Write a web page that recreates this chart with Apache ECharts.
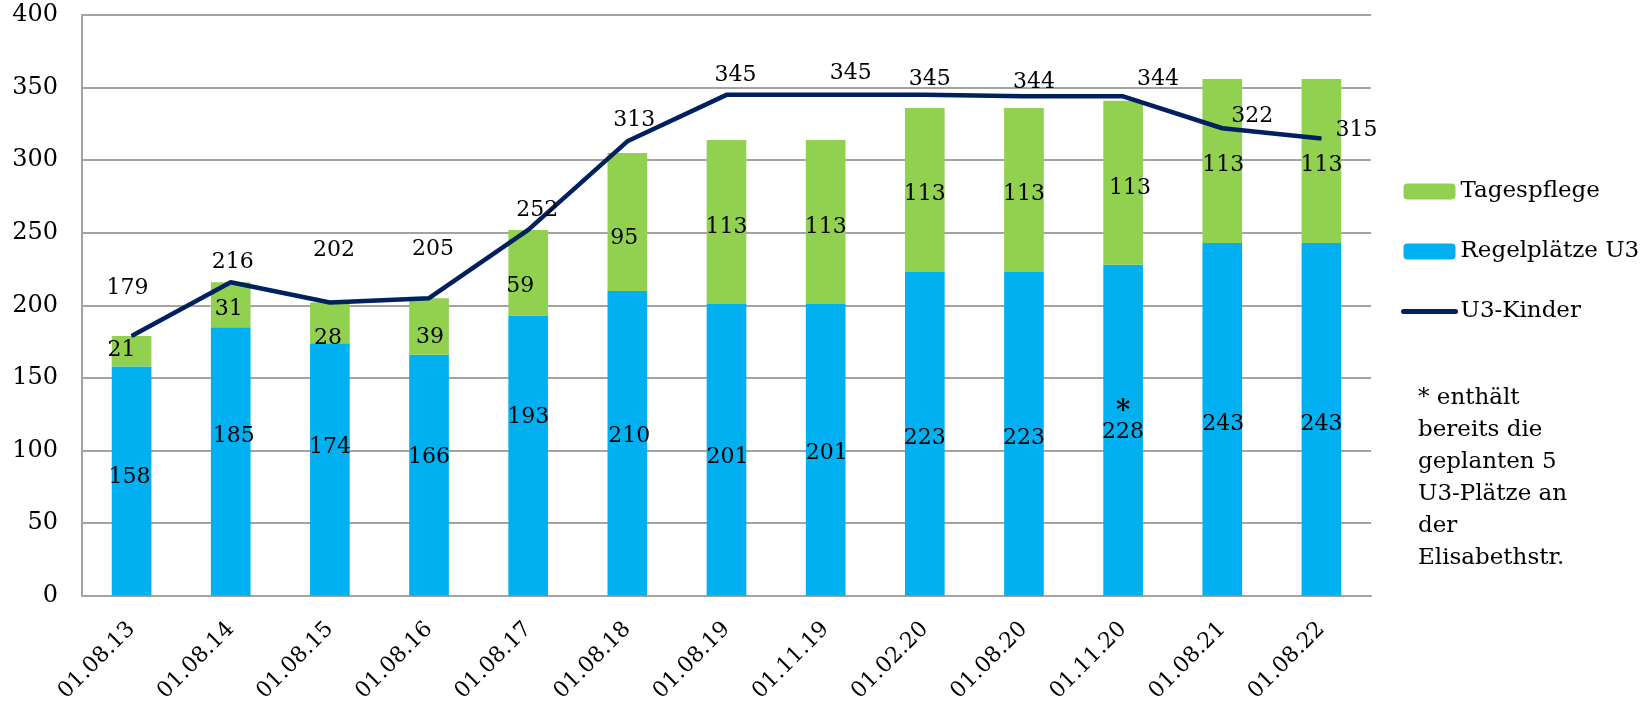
<!DOCTYPE html>
<html>
<head>
<meta charset="utf-8">
<script src="https://cdn.jsdelivr.net/npm/echarts@6/dist/echarts.min.js"></script>
<style>
  html, body { margin: 0; padding: 0; background: #ffffff; }
  #chart { width: 1643px; height: 705px; }
</style>
</head>
<body>
<div id="chart"></div>
<script>
// ---- data ----
const categories = ['01.08.13','01.08.14','01.08.15','01.08.16','01.08.17','01.08.18','01.08.19','01.11.19','01.02.20','01.08.20','01.11.20','01.08.21','01.08.22'];
const regelplaetze = [158,185,174,166,193,210,201,201,223,223,228,243,243];
const tagespflege = [21,31,28,39,59,95,113,113,113,113,113,113,113];
const u3Kinder = [179,216,202,205,252,313,345,345,345,344,344,322,315];
const regelNotes = ['','','','','','','','','','','*','',''];
const yMin = 0, yMax = 400, yStep = 50;
const footnote = ['* enthält', 'bereits die', 'geplanten 5', 'U3-Plätze an', 'der', 'Elisabethstr.'];

// ---- label placement (style only) ----
const regelLabelOffsets = [[-2,-4],[3,-25],[0,-22],[0,-18],[0,-38],[2,-7],[1,7],[1,3],[0,4],[0,4],[0,-8],[1,5],[0,5]];
const tagesLabelOffsets = [[-10,-1],[-2,5],[-2,15],[1,11],[-8,14],[-3,16],[0,5],[0,5],[0,4],[0,4],[7,6],[1,4],[0,4]];
const kinderLabelOffsets = [[-4,-48],[2,-20],[4,-52],[4,-49],[9,-20],[7,-21],[9,-20],[25,-22],[5,-16],[10,-14],[35,-17],[30,-12],[35,-8]];

const FONT = '"DejaVu Serif", Georgia, serif';
const GRID_COLOR = '#a3a3a3';
const LEGEND_TEXT = { fontFamily: FONT, fontSize: 23, color: '#000', lineHeight: 22 };

const chart = echarts.init(document.getElementById('chart'), null, { renderer: 'canvas' });

const option = {
  animation: false,
  backgroundColor: '#ffffff',
  textStyle: { fontFamily: FONT, color: '#000', fontSize: 22 },
  grid: { left: 82, right: 272, top: 15, bottom: 108, containLabel: false },
  legend: {
    orient: 'vertical',
    left: 1396,
    top: 175,
    itemWidth: 52,
    itemHeight: 16,
    itemGap: 37,
    textStyle: LEGEND_TEXT,
    data: [
      { name: 'Tagespflege', textStyle: LEGEND_TEXT },
      { name: 'Regelplätze U3', textStyle: LEGEND_TEXT },
      { name: 'U3-Kinder', textStyle: LEGEND_TEXT, itemStyle: { opacity: 0 }, lineStyle: { width: 5, cap: 'round' } }
    ]
  },
  xAxis: {
    type: 'category',
    data: categories,
    axisLine: { show: true, lineStyle: { color: GRID_COLOR, width: 2 } },
    axisTick: { show: false },
    axisLabel: { rotate: 45, margin: 30, fontFamily: FONT, fontSize: 22, color: '#000', interval: 0 },
    splitLine: { show: false }
  },
  yAxis: {
    type: 'value',
    min: yMin, max: yMax, interval: yStep,
    axisLine: { show: true, lineStyle: { color: GRID_COLOR, width: 2 } },
    axisTick: { show: false },
    axisLabel: {
      margin: 24, color: '#000',
      formatter: v => '{t|' + v + '}',
      rich: { t: { fontFamily: FONT, fontSize: 24, color: '#000' } }
    },
    splitLine: { show: true, lineStyle: { color: GRID_COLOR, width: 2 } }
  },
  series: [
    {
      name: 'Regelplätze U3',
      type: 'bar',
      stack: 'plaetze',
      barWidth: '40%',
      itemStyle: { color: '#00b0f0' },
      data: regelplaetze.map((v, i) => ({ value: v, label: { offset: regelLabelOffsets[i] } })),
      label: {
        show: true, position: 'inside', fontFamily: FONT, fontSize: 22, color: '#000', lineHeight: 20,
        formatter: p => regelNotes[p.dataIndex] ? '{s|' + regelNotes[p.dataIndex] + '}\n' + p.value : String(p.value),
        rich: { s: { fontFamily: FONT, fontSize: 27, fontWeight: 'bold', lineHeight: 20, color: '#000' } }
      },
      z: 2
    },
    {
      name: 'Tagespflege',
      type: 'bar',
      stack: 'plaetze',
      barWidth: '40%',
      itemStyle: { color: '#92d050' },
      data: tagespflege.map((v, i) => ({ value: v, label: { offset: tagesLabelOffsets[i] } })),
      label: { show: true, position: 'inside', fontFamily: FONT, fontSize: 22, color: '#000' },
      z: 2
    },
    {
      name: 'U3-Kinder',
      type: 'line',
      symbol: 'circle',
      symbolSize: 1,
      itemStyle: { color: '#002060' },
      lineStyle: { color: '#002060', width: 4.5 },
      data: u3Kinder.map((v, i) => ({ value: v, label: { offset: kinderLabelOffsets[i] } })),
      label: { show: true, position: 'inside', fontFamily: FONT, fontSize: 22, color: '#000' },
      z: 5
    }
  ],
  graphic: [
    {
      type: 'text',
      left: 1418,
      top: 382,
      style: {
        text: footnote.join('\n'),
        fontFamily: FONT,
        fontSize: 23,
        lineHeight: 32,
        fill: '#000'
      }
    }
  ]
};

chart.setOption(option);
</script>
</body>
</html>
